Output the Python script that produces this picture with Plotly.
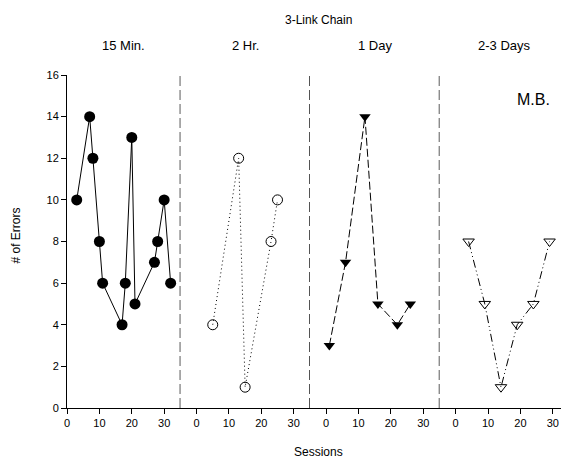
import plotly.graph_objects as go
from plotly.subplots import make_subplots

# Data
panel_titles = ["15 Min.", "2 Hr.", "1 Day", "2-3 Days"]
min15_x = [3, 7, 8, 10, 11, 17, 18, 20, 21, 27, 28, 30, 32]
min15_y = [10, 14, 12, 8, 6, 4, 6, 13, 5, 7, 8, 10, 6]
hr2_x = [5, 13, 15, 23, 25]
hr2_y = [4, 12, 1, 8, 10]
day1_x = [1, 6, 12, 16, 22, 26]
day1_y = [3, 7, 14, 5, 4, 5]
day23_x = [4, 9, 14, 19, 24, 29]
day23_y = [8, 5, 1, 4, 5, 8]
x_ticks = [0, 10, 20, 30]
y_ticks = [0, 2, 4, 6, 8, 10, 12, 14, 16]

FONT = "Arial, Liberation Sans, sans-serif"

fig = make_subplots(rows=1, cols=4, shared_yaxes=True, horizontal_spacing=0,
                    column_widths=[35, 40, 40, 40])

series = [
    (min15_x, min15_y, dict(symbol="circle", size=11, color="black"), "solid"),
    (hr2_x, hr2_y, dict(symbol="circle-open", size=10, color="black", line=dict(width=1)),
     "1px,3px"),
    (day1_x, day1_y, dict(symbol="triangle-down", size=10, color="black"), "8px,3px"),
    (day23_x, day23_y, dict(symbol="triangle-down-open", size=10, color="black", line=dict(width=1)),
     "8px,3px,1px,3px,1px,3px"),
]
for i, (xs, ys, mk, dash) in enumerate(series):
    fig.add_trace(go.Scatter(x=xs, y=ys, mode="lines+markers", marker=mk,
                             line=dict(color="black", width=1, dash=dash),
                             showlegend=False), row=1, col=i + 1)

for i in range(4):
    rng = [0, 35] if i == 0 else [-5, 35]
    fig.update_xaxes(range=rng, tickvals=x_ticks, ticks="outside", ticklen=5,
                     tickcolor="black", showline=True, linecolor="black", linewidth=1,
                     showgrid=False, zeroline=False,
                     tickfont=dict(family=FONT, size=11, color="black"),
                     row=1, col=i + 1)
    fig.update_yaxes(range=[0, 16], showgrid=False, zeroline=False, row=1, col=i + 1)
    if i < 3:
        fig.add_shape(type="line", x0=35, x1=35, y0=0, y1=16,
                      line=dict(color="black", width=1.3, dash="10px,4px"),
                      row=1, col=i + 1)

fig.update_yaxes(tickvals=y_ticks, ticks="outside", ticklen=5, tickcolor="black",
                 showline=True, linecolor="black", linewidth=1,
                 tickfont=dict(family=FONT, size=11, color="black"),
                 row=1, col=1)

# Panel titles
for i, t in enumerate(panel_titles):
    xref = "x domain" if i == 0 else f"x{i + 1} domain"
    fig.add_annotation(text=t, xref=xref, yref="paper", x=0.5, y=1.0, yshift=30,
                       yanchor="middle", showarrow=False,
                       font=dict(family=FONT, size=13, color="black"))

fig.add_annotation(text="M.B.", xref="x4", yref="y", x=24, y=14.8, showarrow=False,
                   font=dict(family=FONT, size=16, color="black"))

fig.add_annotation(text="3-Link Chain", xref="paper", yref="paper", x=0.5, y=1.0,
                   yshift=55, yanchor="middle", showarrow=False,
                   font=dict(family=FONT, size=12, color="black"))
fig.add_annotation(text="Sessions", xref="paper", yref="paper", x=0.5, y=0, yshift=-44,
                   yanchor="middle", showarrow=False,
                   font=dict(family=FONT, size=12, color="black"))
fig.add_annotation(text="# of Errors", xref="paper", yref="paper", x=0, xshift=-52,
                   y=0.5, yshift=6, textangle=-90, xanchor="center", yanchor="middle",
                   showarrow=False, font=dict(family=FONT, size=12, color="black"))

# body has an 8px default margin; compensate so plot area lands at the right pixels
fig.update_layout(
    width=561, height=453,
    margin=dict(l=59, r=0, t=67, b=53),
    plot_bgcolor="white", paper_bgcolor="white",
)

fig.write_html("out.html")
